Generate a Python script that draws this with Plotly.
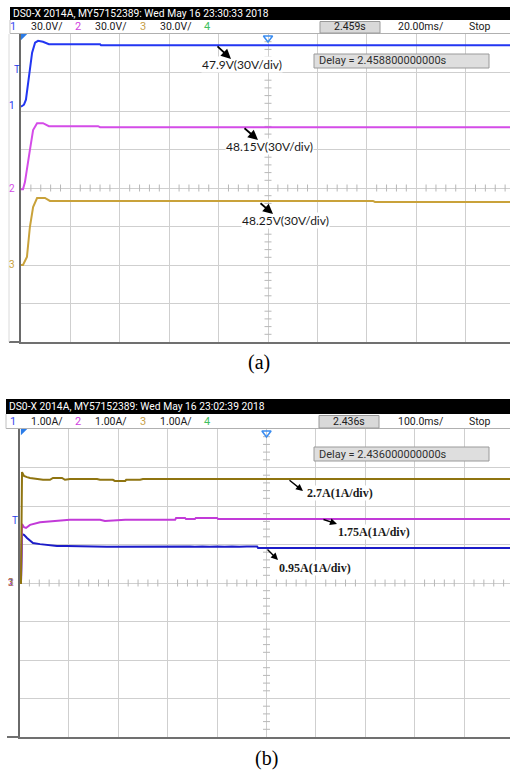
import plotly.graph_objects as go

W, H = 510, 771

# ---------------- DATA ----------------
# Panel (a): output voltages, 30 V/div, 20 ms/div  (time in ms from left edge of screen)
a_ch1_t = [0, 1.2, 2.0, 2.8, 3.6, 4.5, 5.7, 6.9, 8.9, 11.3, 32.0, 32.4, 198]
a_ch1_v = [0, 1.6, 5.5, 18.7, 31.2, 42.1, 49.9, 51.4, 50.6, 48.7, 48.7, 47.9, 47.9]
a_ch2_t = [0, 0.8, 1.6, 2.8, 3.6, 4.9, 6.5, 8.9, 11.3, 31.2, 32.0, 198]
a_ch2_v = [0, 0, 5.5, 18.7, 30.4, 46.0, 51.4, 51.4, 49.1, 49.1, 48.3, 48.3]
a_ch3_t = [0, 0.8, 2.4, 3.2, 3.6, 4.9, 6.5, 9.7, 11.7, 142.5, 143.3, 198]
a_ch3_v = [0, 0, 6.2, 19.5, 29.6, 45.2, 52.2, 52.2, 49.9, 49.9, 49.1, 49.1]
a_ground_div = [6.11, 3.97, 2.0]      # ground reference level of channels 1..3 (divisions from bottom)
a_scale = 30.0                         # V/div
a_tdiv = 20.0                          # ms/div

# Panel (b): output currents, 1 A/div, 100 ms/div
b_ch3_t = [0, 3.0, 5.1, 9.1, 15.2, 21.3, 47.6, 61.7, 67.8, 86.0, 92.1, 102.2, 157, 163, 189, 193, 214, 216, 244, 250, 993]
b_ch3_i = [0, 0, 2.88, 2.78, 2.75, 2.73, 2.68, 2.68, 2.73, 2.73, 2.68, 2.70, 2.70, 2.68, 2.68, 2.65, 2.65, 2.68, 2.68, 2.70, 2.70]
b_ch2_t = [0, 3.0, 5.1, 9.1, 13.2, 21.3, 41.5, 67.8, 102, 163, 173, 214, 315, 317, 335, 337, 355, 357, 400, 402, 993]
b_ch2_i = [0, 0, 1.53, 1.45, 1.43, 1.51, 1.58, 1.61, 1.64, 1.64, 1.61, 1.64, 1.64, 1.69, 1.69, 1.66, 1.66, 1.69, 1.69, 1.66, 1.66]
b_ch1_t = [0, 3.0, 5.1, 9.1, 15.2, 27.3, 41.5, 75.9, 96.2, 177, 345, 355, 370, 385, 400, 415, 430, 445, 460, 481, 483, 993]
b_ch1_i = [0, 0, 1.27, 1.25, 1.17, 1.04, 1.01, 0.96, 0.96, 0.94, 0.95, 0.94, 0.95, 0.94, 0.95, 0.94, 0.95, 0.94, 0.95, 0.95, 0.91, 0.91]
b_ground_div = [4.0, 4.0, 4.0]
b_scale = 1.0                          # A/div
b_tdiv = 100.0                         # ms/div

hdr_a = "DS0-X 2014A, MY57152389: Wed May 16 23:30:33 2018"
hdr_b = "DS0-X 2014A, MY57152389: Wed May 16 23:02:39 2018"
ch_a = ["30.0V/", "30.0V/", "30.0V/"]
ch_b = ["1.00A/", "1.00A/", "1.00A/"]
time_a, tb_a, delay_a = "2.459s", "20.00ms/", "Delay = 2.458800000000s"
time_b, tb_b, delay_b = "2.436s", "100.0ms/", "Delay = 2.436000000000s"
labels_a = ["47.9V(30V/div)", "48.15V(30V/div)", "48.25V(30V/div)"]
labels_b = ["2.7A(1A/div)", "1.75A(1A/div)", "0.95A(1A/div)"]

# ---------------- STYLE / GEOMETRY ----------------
DIVPX_X, DIVPX_Y = 49.4, 38.5
A_LEFT, A_TOP, A_BOT = 21.0, 34.0, 342.0
B_LEFT, B_TOP, B_BOT = 19.5, 429.0, 737.0
cols_a = ["#2236f2", "#d44ce8", "#c9a23a"]
cols_b = ["#1c1cc8", "#c23ad8", "#8f7410"]
ch_num_cols = ["#3a4cf0", "#d040e0", "#c8a048", "#40c060"]
GRID = "#cfcfcf"
NARROW = "Roboto, Liberation Sans, sans-serif"


def px(x):
    return x / W


def py(y):
    return 1 - y / H


def ta(x):  # pixel x -> ms (panel a)
    return (x - A_LEFT) / DIVPX_X * a_tdiv


def da(y):  # pixel y -> divisions (panel a)
    return (A_BOT - y) / DIVPX_Y


def tb(x):
    return (x - B_LEFT) / DIVPX_X * b_tdiv


def db(y):
    return (B_BOT - y) / DIVPX_Y


fig = go.Figure()

# ---------------- traces ----------------
for i, (t, v) in enumerate([(a_ch1_t, a_ch1_v), (a_ch2_t, a_ch2_v), (a_ch3_t, a_ch3_v)]):
    fig.add_trace(go.Scatter(x=t, y=v, mode="lines", line=dict(color=cols_a[i], width=2),
                             xaxis="x", yaxis="y%d" % (i + 2), hoverinfo="skip", showlegend=False))
for i, (t, v) in enumerate([(b_ch1_t, b_ch1_i), (b_ch2_t, b_ch2_i), (b_ch3_t, b_ch3_i)]):
    fig.add_trace(go.Scatter(x=t, y=v, mode="lines", line=dict(color=cols_b[i], width=2),
                             xaxis="x2", yaxis="y%d" % (i + 6), hoverinfo="skip", showlegend=False))

# centre cross tick marks
for (xa, ya, tdiv, xmax) in [("x", "y", a_tdiv, ta(W)), ("x2", "y5", b_tdiv, tb(W))]:
    vy = [k * 0.2 for k in range(0, 41) if k % 5 != 0]
    fig.add_trace(go.Scatter(x=[5 * tdiv] * len(vy), y=vy, mode="markers", xaxis=xa, yaxis=ya,
                             marker=dict(symbol="line-ew", size=5, line=dict(color="#b8b8b8", width=1)),
                             hoverinfo="skip", showlegend=False))
    hx = [k * 0.2 * tdiv for k in range(0, 50) if k % 5 != 0 and k * 0.2 * tdiv < xmax]
    fig.add_trace(go.Scatter(x=hx, y=[4] * len(hx), mode="markers", xaxis=xa, yaxis=ya,
                             marker=dict(symbol="line-ns", size=5, line=dict(color="#b8b8b8", width=1)),
                             hoverinfo="skip", showlegend=False))

# ground / trigger markers
def add_markers(xa, ya, tfun, dfun, grounds_px, cols, trig_px, top_px, tdiv):
    for gy, c in zip(grounds_px, cols):
        fig.add_trace(go.Scatter(x=[tfun(18.5)], y=[dfun(gy)], mode="markers", xaxis=xa, yaxis=ya,
                                 marker=dict(symbol="triangle-right", size=6, color=c),
                                 cliponaxis=False, hoverinfo="skip", showlegend=False))
        fig.add_trace(go.Scatter(x=[tfun(12.5)], y=[dfun(gy + 5)], mode="markers", xaxis=xa, yaxis=ya,
                                 marker=dict(symbol="triangle-down-open", size=5, color=c, line=dict(width=1)),
                                 cliponaxis=False, hoverinfo="skip", showlegend=False))
    fig.add_trace(go.Scatter(x=[tfun(trig_px[0])], y=[dfun(trig_px[1])], mode="markers", xaxis=xa, yaxis=ya,
                             marker=dict(symbol="triangle-right", size=6, color="#2a3ce8"),
                             cliponaxis=False, hoverinfo="skip", showlegend=False))
    fig.add_trace(go.Scatter(x=[tfun(23)], y=[dfun(top_px + 2)], mode="markers", xaxis=xa, yaxis=ya,
                             marker=dict(symbol="triangle-nw", size=7, color="#2a7ce8"),
                             cliponaxis=False, hoverinfo="skip", showlegend=False))
    fig.add_trace(go.Scatter(x=[5 * tdiv], y=[dfun(top_px + 4)], mode="markers", xaxis=xa, yaxis=ya,
                             marker=dict(symbol="triangle-down-open", size=8, color="#3a8cf0", line=dict(width=1.5)),
                             cliponaxis=False, hoverinfo="skip", showlegend=False))


add_markers("x", "y", ta, da, [107, 189, 265], cols_a, (18, 78), A_TOP, a_tdiv)
add_markers("x2", "y5", tb, db, [583, 583, 583], cols_b, (16.5, 529), B_TOP, b_tdiv)

# ---------------- axes ----------------
ax_common = dict(showticklabels=False, ticks="", zeroline=False, fixedrange=True)
fig.update_layout(
    width=W, height=H, autosize=False,
    margin=dict(l=0, r=0, t=0, b=0),
    paper_bgcolor="white", plot_bgcolor="white",
    showlegend=False,
    xaxis=dict(domain=[px(A_LEFT), 1], range=[0, ta(W)], dtick=a_tdiv, tick0=0, showgrid=True,
               gridcolor=GRID, gridwidth=1, showline=True, linecolor="#707070", linewidth=2,
               anchor="y", **ax_common),
    yaxis=dict(domain=[py(A_BOT), py(A_TOP)], range=[0, 8], dtick=1, tick0=0, showgrid=True,
               gridcolor=GRID, gridwidth=1, showline=True, linecolor="#6a6a6a", linewidth=1.5,
               anchor="x", **ax_common),
    xaxis2=dict(domain=[px(B_LEFT), 1], range=[0, tb(W)], dtick=b_tdiv, tick0=0, showgrid=True,
                gridcolor=GRID, gridwidth=1, showline=True, linecolor="#707070", linewidth=2,
                anchor="y5", **ax_common),
    yaxis5=dict(domain=[py(B_BOT), py(B_TOP)], range=[0, 8], dtick=1, tick0=0, showgrid=True,
                gridcolor=GRID, gridwidth=1, showline=True, linecolor="#6a6a6a", linewidth=1.5,
                anchor="x2", **ax_common),
)
for i, g in enumerate(a_ground_div):
    fig.layout["yaxis%d" % (i + 2)] = dict(domain=[py(A_BOT), py(A_TOP)], overlaying="y", anchor="x",
                                           range=[-g * a_scale, (8 - g) * a_scale], visible=False,
                                           fixedrange=True)
for i, g in enumerate(b_ground_div):
    fig.layout["yaxis%d" % (i + 6)] = dict(domain=[py(B_BOT), py(B_TOP)], overlaying="y5", anchor="x2",
                                           range=[-g * b_scale, (8 - g) * b_scale], visible=False,
                                           fixedrange=True)

# ---------------- header decorations ----------------
shapes = []
ann = []


def header(bar_top, bar_bot, row_bot, bar_left, hdr_text, ch_texts, tstr, tbstr, box_left):
    shapes.append(dict(type="rect", xref="paper", yref="paper", x0=px(bar_left), x1=1,
                       y0=py(bar_bot), y1=py(bar_top), fillcolor="black", line=dict(width=0), layer="above"))
    shapes.append(dict(type="line", xref="paper", yref="paper", x0=px(bar_left), x1=1,
                       y0=py(row_bot), y1=py(row_bot), line=dict(color="#b0b0b0", width=1)))
    shapes.append(dict(type="line", xref="paper", yref="paper", x0=px(bar_left), x1=px(bar_left),
                       y0=py(row_bot), y1=py(bar_bot), line=dict(color="#c0c0c0", width=1)))
    ann.append(dict(xref="paper", yref="paper", x=px(bar_left + 1), y=py((bar_top + bar_bot) / 2),
                    text=hdr_text, showarrow=False, xanchor="left", yanchor="middle",
                    font=dict(family=NARROW, size=10.3, color="white")))
    rowc = (bar_bot + row_bot) / 2
    xs_num = [13, 78, 143, 207]
    xs_txt = [29, 93, 158]
    for k in range(4):
        ann.append(dict(xref="paper", yref="paper", x=px(xs_num[k]), y=py(rowc), text=str(k + 1),
                        showarrow=False, xanchor="center", yanchor="middle",
                        font=dict(family=NARROW, size=11, color=ch_num_cols[k])))
    for k in range(3):
        ann.append(dict(xref="paper", yref="paper", x=px(xs_txt[k]), y=py(rowc), text=ch_texts[k],
                        showarrow=False, xanchor="left", yanchor="middle",
                        font=dict(family=NARROW, size=10.5, color="#202020")))
    shapes.append(dict(type="rect", xref="paper", yref="paper", x0=px(box_left), x1=px(box_left + 60),
                       y0=py(row_bot - 0.5), y1=py(bar_bot + 1.5), fillcolor="#d9d9d9",
                       line=dict(color="#9a9a9a", width=1)))
    ann.append(dict(xref="paper", yref="paper", x=px(box_left + 30), y=py(rowc), text=tstr,
                    showarrow=False, xanchor="center", yanchor="middle",
                    font=dict(family=NARROW, size=10.5, color="#202020")))
    ann.append(dict(xref="paper", yref="paper", x=px(396), y=py(rowc), text=tbstr,
                    showarrow=False, xanchor="left", yanchor="middle",
                    font=dict(family=NARROW, size=10.5, color="#202020")))
    ann.append(dict(xref="paper", yref="paper", x=px(467), y=py(rowc), text="Stop",
                    showarrow=False, xanchor="left", yanchor="middle",
                    font=dict(family=NARROW, size=10.5, color="#202020")))


header(7, 20, 33.5, 10, hdr_a, ch_a, time_a, tb_a, 320)
header(399, 414, 428.5, 6, hdr_b, ch_b, time_b, tb_b, 319)

# delay boxes
for (top, txt) in [(54, delay_a), (447, delay_b)]:
    shapes.append(dict(type="rect", xref="paper", yref="paper", x0=px(314), x1=px(489),
                       y0=py(top + 14), y1=py(top), fillcolor="#dedede", line=dict(color="#9a9a9a", width=1)))
    ann.append(dict(xref="paper", yref="paper", x=px(317), y=py(top + 7), text=txt, showarrow=False,
                    xanchor="left", yanchor="middle", font=dict(family=NARROW, size=11, color="#303030")))

# bottom border extensions and faint left line
shapes.append(dict(type="line", xref="paper", yref="paper", x0=px(9), x1=px(A_LEFT), y0=py(A_BOT), y1=py(A_BOT),
                   line=dict(color="#707070", width=2)))
shapes.append(dict(type="line", xref="paper", yref="paper", x0=px(7), x1=px(B_LEFT), y0=py(B_BOT), y1=py(B_BOT),
                   line=dict(color="#707070", width=2)))
shapes.append(dict(type="line", xref="paper", yref="paper", x0=px(9), x1=px(9), y0=py(A_BOT), y1=py(A_TOP),
                   line=dict(color="#dadada", width=1)))

# channel numbers at ground markers and T markers
for (n, gy, c) in [(1, 107, cols_a[0]), (2, 189, cols_a[1]), (3, 265, cols_a[2])]:
    ann.append(dict(xref="paper", yref="paper", x=px(12), y=py(gy - 1), text=str(n), showarrow=False,
                    xanchor="center", yanchor="middle", font=dict(family=NARROW, size=10, color=c)))
for (n, c) in [(1, cols_b[0]), (2, cols_b[1]), (3, "#b09030")]:
    ann.append(dict(xref="paper", yref="paper", x=px(10.5), y=py(582), text=str(n), showarrow=False,
                    xanchor="center", yanchor="middle", font=dict(family=NARROW, size=10, color=c)))
ann.append(dict(xref="paper", yref="paper", x=px(17), y=py(69), text="T", showarrow=False,
                xanchor="center", yanchor="middle", font=dict(family=NARROW, size=10, color="#2a3ce8")))
ann.append(dict(xref="paper", yref="paper", x=px(15), y=py(520), text="T", showarrow=False,
                xanchor="center", yanchor="middle", font=dict(family=NARROW, size=10, color="#2a3ce8")))

# value annotations (a)
lab_font_a = dict(family="Lato, Liberation Sans, sans-serif", size=12, color="#1a1a1a")
for txt, (cx, cy), (x0, y0, x1, y1) in zip(
        labels_a,
        [(242, 65), (269, 147), (285, 221)],
        [(216, 45, 231, 59), (243, 127, 258, 140), (259, 202, 273, 214)]):
    ann.append(dict(xref="x", yref="y", x=ta(cx), y=da(cy), text=txt, showarrow=False,
                    xanchor="center", yanchor="middle", bgcolor="white", font=lab_font_a, borderpad=0))
    ann.append(dict(xref="x", yref="y", x=ta(x1), y=da(y1), ax=x0 - x1, ay=y0 - y1, text="",
                    showarrow=True, arrowhead=2, arrowsize=1.1, arrowwidth=1.8, arrowcolor="black", standoff=0))

# value annotations (b)
lab_font_b = dict(family="Liberation Serif, Times New Roman, serif", size=12, color="#1a1a1a", weight="bold")
for txt, (lx, cy), (x0, y0, x1, y1) in zip(
        labels_b,
        [(306, 493), (337, 532), (278, 568)],
        [(288, 479, 303, 491), (322, 519, 337, 524), (266, 548, 278, 560)]):
    ann.append(dict(xref="x2", yref="y5", x=tb(lx), y=db(cy), text="<b>%s</b>" % txt, showarrow=False,
                    xanchor="left", yanchor="middle", bgcolor="white", font=lab_font_b, borderpad=0))
    ann.append(dict(xref="x2", yref="y5", x=tb(x1), y=db(y1), ax=x0 - x1, ay=y0 - y1, text="",
                    showarrow=True, arrowhead=2, arrowsize=1.0, arrowwidth=1.4, arrowcolor="black", standoff=0))

# captions
ann.append(dict(xref="paper", yref="paper", x=px(259), y=py(362), text="(a)", showarrow=False,
                xanchor="center", yanchor="middle",
                font=dict(family="Liberation Serif, Times New Roman, serif", size=20, color="black")))
ann.append(dict(xref="paper", yref="paper", x=px(266), y=py(758), text="(b)", showarrow=False,
                xanchor="center", yanchor="middle",
                font=dict(family="Liberation Serif, Times New Roman, serif", size=20, color="black")))

fig.update_layout(shapes=shapes, annotations=ann)
fig.write_html("out.html", config={"displayModeBar": False},
               post_script="document.body.style.margin='0';document.body.style.overflow='hidden';")
